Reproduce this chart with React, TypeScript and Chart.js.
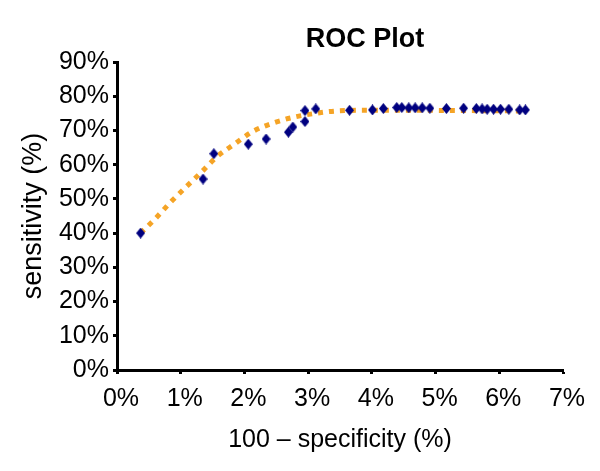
import React, { useEffect, useRef } from "react";
import { Chart, registerables } from "chart.js";

Chart.register(...registerables);

// Observed points: 100 - specificity (%) vs sensitivity (%)
const falsePosRate: number[] = [0.37, 1.35, 1.52, 2.06, 2.34, 2.69, 2.76, 2.95, 2.95, 3.12, 3.65, 4.01, 4.18, 4.39, 4.47, 4.58, 4.68, 4.79, 4.91, 5.17, 5.44, 5.64, 5.73, 5.81, 5.91, 6.02, 6.15, 6.32, 6.41];
const sensitivity: number[] = [40.0, 55.8, 63.2, 66.0, 67.5, 69.5, 71.0, 72.6, 75.8, 76.3, 75.9, 76.0, 76.4, 76.7, 76.7, 76.6, 76.6, 76.6, 76.5, 76.4, 76.5, 76.4, 76.3, 76.2, 76.2, 76.2, 76.2, 76.0, 76.0];

// Trend line
const trendX: number[] = [0.37, 0.6, 0.84, 1.09, 1.33, 1.56, 1.85, 2.13, 2.44, 2.78, 3.12, 3.45, 4.0, 4.5, 5.5, 6.41];
const trendY: number[] = [40.0, 44.2, 49.0, 53.6, 57.9, 62.2, 66.1, 69.7, 72.1, 73.9, 75.0, 75.7, 75.9, 75.9, 75.8, 75.7];

const xTicks: number[] = [0, 1, 2, 3, 4, 5, 6, 7];
const yTicks: number[] = [0, 10, 20, 30, 40, 50, 60, 70, 80, 90];

const chartTitle = "ROC Plot";
const xTitle = "100 \u2013 specificity (%)";
const yTitle = "sensitivity (%)";

const FONT = "'Liberation Sans', Arial, sans-serif";

function makeDiamond(): HTMLCanvasElement {
  const c = document.createElement("canvas");
  c.width = 9;
  c.height = 11;
  const g = c.getContext("2d")!;
  g.fillStyle = "#000080";
  g.beginPath();
  g.moveTo(4.5, 0);
  g.lineTo(9, 5.5);
  g.lineTo(4.5, 11);
  g.lineTo(0, 5.5);
  g.closePath();
  g.fill();
  return c;
}

export default function App() {
  const ref = useRef<HTMLCanvasElement | null>(null);

  useEffect(() => {
    if (!ref.current) return;
    const diamond = makeDiamond();
    const titlePlugin = {
      id: "customTitle",
      afterDraw(chart: any) {
        const ctx = chart.ctx;
        ctx.save();
        ctx.font = `bold 27px ${FONT}`;
        ctx.fillStyle = "#000";
        ctx.textAlign = "center";
        ctx.textBaseline = "middle";
        ctx.fillText(chartTitle, 365, 40);
        ctx.restore();
      },
    };
    const chart = new Chart(ref.current, {
      type: "scatter",
      data: {
        datasets: [
          {
            label: "observed",
            data: falsePosRate.map((x, i) => ({ x, y: sensitivity[i] })),
            pointStyle: diamond as any,
            pointRadius: 5,
            showLine: false,
          },
          {
            label: "trend",
            type: "line",
            data: trendX.map((x, i) => ({ x, y: trendY[i] })),
            borderColor: "#F5A426",
            borderWidth: 5,
            borderDash: [5, 6],
            borderCapStyle: "butt",
            cubicInterpolationMode: "monotone",
            pointRadius: 0,
            fill: false,
          } as any,
        ],
      },
      options: {
        responsive: false,
        animation: false,
        layout: { padding: { top: 62, right: 37, left: 0, bottom: 0 } },
        plugins: {
          legend: { display: false },
          tooltip: { enabled: false },
          title: { display: false },
        },
        scales: {
          x: {
            type: "linear",
            min: 0,
            max: 7,
            afterBuildTicks: (s: any) => {
              s.ticks = xTicks.map((v) => ({ value: v }));
            },
            afterFit: (s: any) => {
              s.height = 101;
            },
            ticks: {
              color: "#000",
              font: { family: FONT, size: 25 },
              padding: 10,
              labelOffset: 4,
              callback: (v: any) => `${v}%`,
            },
            grid: {
              drawOnChartArea: false,
              drawTicks: true,
              tickLength: 4,
              tickWidth: 3,
              tickColor: "#000",
            },
            border: { display: true, color: "#000", width: 3 },
            title: {
              display: true,
              text: xTitle,
              color: "#000",
              font: { family: FONT, size: 25 },
              padding: { top: 0, bottom: 16 },
            },
          },
          y: {
            type: "linear",
            min: 0,
            max: 90,
            afterBuildTicks: (s: any) => {
              s.ticks = yTicks.map((v) => ({ value: v }));
            },
            afterFit: (s: any) => {
              s.width = 117;
            },
            ticks: {
              color: "#000",
              font: { family: FONT, size: 25 },
              padding: 4,
              callback: (v: any) => `${v}%`,
            },
            grid: {
              drawOnChartArea: false,
              drawTicks: true,
              tickLength: 4,
              tickWidth: 3,
              tickColor: "#000",
            },
            border: { display: true, color: "#000", width: 3 },
            title: {
              display: true,
              text: yTitle,
              color: "#000",
              font: { family: FONT, size: 27 },
              padding: { top: 17, bottom: 0 },
            },
          },
        },
      },
      plugins: [titlePlugin],
    });
    return () => chart.destroy();
  }, []);

  return (
    <div style={{ position: "fixed", left: 0, top: 0, width: 600, height: 471, background: "#fff" }}>
      <canvas ref={ref} width={600} height={471} style={{ width: 600, height: 471, display: "block" }} />
    </div>
  );
}
